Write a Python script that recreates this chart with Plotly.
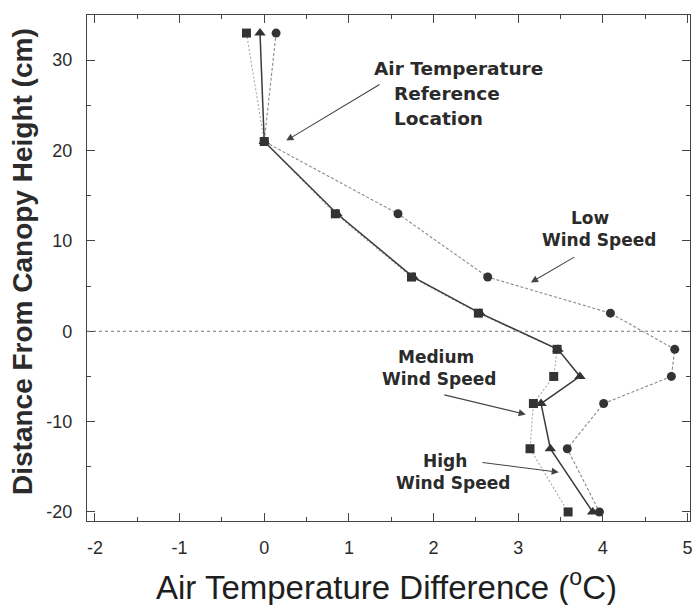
import plotly.graph_objects as go

# Height of each sensor relative to the canopy top (cm)
heights = [33, 21, 13, 6, 2, -2, -5, -8, -13, -20]

# Air temperature difference from the reference location (deg C)
low_wind = [0.14, 0.0, 1.58, 2.64, 4.09, 4.85, 4.81, 4.01, 3.58, 3.96]
medium_wind = [-0.21, 0.0, 0.84, 1.74, 2.53, 3.46, 3.42, 3.18, 3.14, 3.59]
high_wind = [-0.05, 0.0, 0.86, 1.76, 2.55, 3.47, 3.73, 3.27, 3.38, 3.88]

x_ticks = [-2, -1, 0, 1, 2, 3, 4, 5]
x_tick_labels = ["-2", "-1", "0", "1", "2", "3", "4", "5"]
y_ticks = [-20, -10, 0, 10, 20, 30]
y_tick_labels = ["-20", "-10", "0", "10", "20", "30"]

INK = "#2b2b2b"
fig = go.Figure()

fig.add_trace(go.Scatter(
    x=low_wind, y=heights, mode="lines+markers", name="Low Wind Speed",
    line=dict(color="#8a8a8a", width=1.1, dash="3px,2px"),
    marker=dict(symbol="circle", size=9, color="#333333"),
))
fig.add_trace(go.Scatter(
    x=medium_wind, y=heights, mode="lines+markers", name="Medium Wind Speed",
    line=dict(color="#a8a8a8", width=1.1, dash="2px,2px"),
    marker=dict(symbol="square", size=9, color="#333333"),
))
fig.add_trace(go.Scatter(
    x=high_wind, y=heights, mode="lines+markers", name="High Wind Speed",
    line=dict(color="#3a3a3a", width=1.5),
    marker=dict(symbol="triangle-up", size=10, color="#333333"),
))

# dotted line marking the canopy top
fig.add_shape(type="line", xref="paper", yref="y", x0=0, x1=1, y0=0, y1=0,
              line=dict(color="#777777", width=1, dash="dot"))

lab = dict(family="DejaVu Sans", size=17, color=INK, weight="bold")
lab_big = dict(family="DejaVu Sans", size=18.5, color=INK, weight="bold")


def text(x, y, s, font, anchor="center"):
    fig.add_annotation(x=x, y=y, xref="x", yref="y", text=s, showarrow=False,
                       font=font, xanchor=anchor, yanchor="middle")


def arrow(x0, y0, x1, y1):
    fig.add_annotation(x=x1, y=y1, ax=x0, ay=y0, xref="x", yref="y",
                       axref="x", ayref="y", text="", showarrow=True,
                       arrowhead=2, arrowsize=1.3, arrowwidth=1.1,
                       arrowcolor="#444444")


text(1.27, 29.1, "Air Temperature", lab_big, "left")
text(1.51, 26.3, "Reference", lab_big, "left")
text(1.51, 23.5, "Location", lab_big, "left")
arrow(1.38, 27.4, 0.26, 21.1)

text(3.85, 12.5, "Low", lab)
text(3.96, 10.1, "Wind Speed", lab)
arrow(3.68, 8.3, 3.15, 5.4)

text(2.03, -2.8, "Medium", lab)
text(2.06, -5.3, "Wind Speed", lab)
arrow(2.11, -7.0, 3.09, -9.2)

text(2.14, -14.4, "High", lab)
text(2.23, -16.8, "Wind Speed", lab)
arrow(2.56, -14.5, 3.48, -15.6)

# axis titles
fig.add_annotation(xref="paper", yref="paper", x=-0.106, y=0.512,
                   text="Distance From Canopy Height (cm)", showarrow=False,
                   textangle=-90, xanchor="center", yanchor="middle",
                   font=dict(family="Liberation Sans", size=28, color=INK,
                             weight="bold"))
fig.add_annotation(xref="paper", yref="paper", x=0.497, y=-0.127,
                   text="Air Temperature Difference (<sup>o</sup>C)",
                   showarrow=False, xanchor="center", yanchor="middle",
                   font=dict(family="Liberation Sans", size=33, color="#1e1e1e"))

axis_common = dict(
    showgrid=False, zeroline=False, showline=True, linecolor="#444444",
    linewidth=1.2, mirror="ticks", ticks="inside", ticklen=8, tickwidth=1,
    tickcolor="#444444", ticklabelstandoff=10,
    tickfont=dict(family="Liberation Sans", size=18, color=INK),
)

fig.update_xaxes(range=[-2.094, 5.03], tickvals=x_ticks,
                 ticktext=x_tick_labels,
                 minor=dict(dtick=0.5, ticks="inside", ticklen=4,
                            tickcolor="#444444", showgrid=False),
                 **axis_common)
fig.update_yaxes(range=[-21.0, 35.0], tickvals=y_ticks,
                 ticktext=y_tick_labels,
                 minor=dict(dtick=5, ticks="inside", ticklen=4,
                            tickcolor="#444444", showgrid=False),
                 **axis_common)

fig.update_layout(
    width=699, height=605, showlegend=False,
    margin=dict(l=87, r=7, t=15, b=84),
    plot_bgcolor="white", paper_bgcolor="white",
)

fig.write_html("out.html")
